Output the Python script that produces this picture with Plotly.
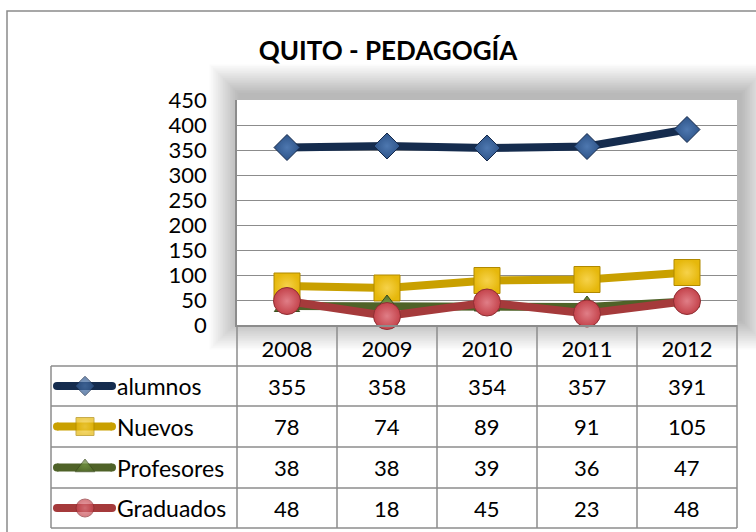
import plotly.graph_objects as go

# ---- data ----
years = ["2008", "2009", "2010", "2011", "2012"]
series_names = ["alumnos", "Nuevos", "Profesores", "Graduados"]
alumnos = [355, 358, 354, 357, 391]
nuevos = [78, 74, 89, 91, 105]
profesores = [38, 38, 39, 36, 47]
graduados = [48, 18, 45, 23, 48]
y_ticks = [0, 50, 100, 150, 200, 250, 300, 350, 400, 450]

values = [alumnos, nuevos, profesores, graduados]

# ---- styles ----
W, H = 756, 532
FONT = "Lato"
line_colors = ["#152C4E", "#C9A000", "#4F6228", "#A53A3B"]
marker_fill = ["#2E5489", "#E6B80C", "#56702C", "#C4434B"]
marker_center = ["#4E78B0", "#F6D24A", "#769A44", "#E07E87"]
marker_edge = ["#15294A", "#B08900", "#3B4D1E", "#8E2E33"]
symbols = ["diamond", "square", "triangle-up", "circle"]
plot_sizes = [20, 26, 22, 27]
key_sizes = [15, 18, 17, 18]

# plot-area box in pixels
PX0, PX1, PY0, PY1 = 237, 737, 100, 325
# table geometry in pixels
TAB_LEFT = 51
ROW_EDGES = [366, 406, 447, 488, 528]
COL_EDGES = [237, 337, 437, 537, 637, 737]
HEADER_TOP = 325


def px(x):
    return x / W


def py(y):
    return 1 - y / H


fig = go.Figure()

# data series on the main axes
for name, vals, lc, mf, mc, me, sym, sz in zip(
        series_names, values, line_colors, marker_fill, marker_center,
        marker_edge, symbols, plot_sizes):
    fig.add_trace(go.Scatter(
        x=years, y=vals, name=name, mode="lines+markers",
        line=dict(color=lc, width=8),
        marker=dict(symbol=sym, size=sz, color=mf,
                    gradient=dict(type="radial", color=mc),
                    line=dict(color=me, width=1)),
        xaxis="x", yaxis="y", showlegend=False, cliponaxis=False,
    ))

# legend keys inside the data table (pixel overlay axes)
shapes = []
annotations = []
for i, (name, lc, mf, mc, me, sym, ks) in enumerate(zip(
        series_names, line_colors, marker_fill, marker_center, marker_edge,
        symbols, key_sizes)):
    yc = (ROW_EDGES[i] + ROW_EDGES[i + 1]) / 2
    fig.add_trace(go.Scatter(
        x=[57, 85, 112], y=[yc, yc, yc], mode="lines+markers",
        line=dict(color=lc, width=8),
        marker=dict(symbol=sym, size=[0, ks, 0], color=mf,
                    gradient=dict(type="radial", color=mc),
                    line=dict(color=me, width=1)),
        xaxis="x2", yaxis="y2", showlegend=False, hoverinfo="skip",
    ))
    # rounded ends of the key line
    for xe in (57, 112):
        shapes.append(dict(
            type="circle", xref="paper", yref="paper", layer="above",
            x0=px(xe - 4), x1=px(xe + 4), y0=py(yc - 4), y1=py(yc + 4),
            fillcolor=lc, line=dict(width=0),
        ))
    annotations.append(dict(
        x=px(115), y=py(yc), xref="paper", yref="paper", text=name,
        showarrow=False, xanchor="left", yanchor="middle",
        font=dict(family=FONT, size=23, color="#000000"),
    ))
    # one value per year column (category index on the x axis)
    for j, v in enumerate(values[i]):
        annotations.append(dict(
            x=j, y=py(yc), xref="x", yref="paper", text=str(v),
            showarrow=False, xanchor="center", yanchor="middle",
            font=dict(family=FONT, size=22, color="#000000"),
        ))

# soft shadow behind the plot area
n_layers = 18
for k in range(n_layers, 0, -1):
    d = k * 1.7
    shapes.append(dict(
        type="rect", xref="paper", yref="paper", layer="below",
        x0=px(PX0 - d + 3), x1=px(PX1 + d + 3),
        y0=py(PY0 - d - 5), y1=py(PY1 + d - 6),
        fillcolor="rgba(0,0,0,0.014)", line=dict(width=0),
    ))
# white plot area
shapes.append(dict(
    type="rect", xref="paper", yref="paper", layer="below",
    x0=px(PX0), x1=px(PX1), y0=py(PY0), y1=py(PY1),
    fillcolor="#FFFFFF", line=dict(width=0),
))

# outer chart border
shapes.append(dict(
    type="rect", xref="paper", yref="paper", layer="above",
    x0=px(7), x1=px(W + 10), y0=py(11), y1=py(H + 10),
    fillcolor="rgba(0,0,0,0)", line=dict(color="#8A8A8A", width=1.5),
))

grid_col = "#8C8C8C"
# table horizontal rules
for ye in ROW_EDGES:
    shapes.append(dict(
        type="line", xref="paper", yref="paper", layer="above",
        x0=px(TAB_LEFT), x1=px(COL_EDGES[-1]), y0=py(ye), y1=py(ye),
        line=dict(color=grid_col, width=1.5),
    ))
# table vertical rules
shapes.append(dict(
    type="line", xref="paper", yref="paper", layer="above",
    x0=px(TAB_LEFT), x1=px(TAB_LEFT), y0=py(ROW_EDGES[0]), y1=py(ROW_EDGES[-1]),
    line=dict(color=grid_col, width=1.5),
))
for xe in COL_EDGES:
    shapes.append(dict(
        type="line", xref="paper", yref="paper", layer="above",
        x0=px(xe), x1=px(xe), y0=py(HEADER_TOP), y1=py(ROW_EDGES[-1]),
        line=dict(color=grid_col, width=1.5),
    ))

fig.update_layout(
    template="none",
    width=W, height=H, autosize=False,
    margin=dict(l=0, r=0, t=0, b=0, pad=0),
    paper_bgcolor="#FFFFFF", plot_bgcolor="rgba(0,0,0,0)",
    title=dict(text="<b>QUITO - PEDAGOGÍA</b>", x=px(388), y=py(51),
               xanchor="center", yanchor="middle", xref="paper", yref="paper",
               automargin=False,
               font=dict(family=FONT, size=26, color="#000000")),
    xaxis=dict(domain=[px(PX0), px(PX1)], anchor="y", type="category",
               categoryorder="array", categoryarray=years,
               range=[-0.5, len(years) - 0.5], showgrid=False,
               showline=True, linecolor=grid_col, linewidth=1.5,
               ticks="", ticklabelstandoff=4, automargin=False,
               tickfont=dict(family=FONT, size=22, color="#000000"),
               fixedrange=True),
    yaxis=dict(domain=[py(PY1), py(PY0)], anchor="x", range=[0, 450],
               tickvals=y_ticks, showgrid=True, gridcolor=grid_col,
               gridwidth=1.3, showline=True, linecolor=grid_col,
               linewidth=1.5, zeroline=False, ticks="",
               ticklabelstandoff=24, automargin=False,
               tickfont=dict(family=FONT, size=22, color="#000000"),
               fixedrange=True),
    xaxis2=dict(domain=[0, 1], anchor="y2", range=[0, W], visible=False,
                automargin=False, fixedrange=True),
    yaxis2=dict(domain=[0, 1], anchor="x2", range=[H, 0], visible=False,
                automargin=False, fixedrange=True),
    shapes=shapes,
    annotations=annotations,
    showlegend=False,
)

fig.write_html("out.html")
